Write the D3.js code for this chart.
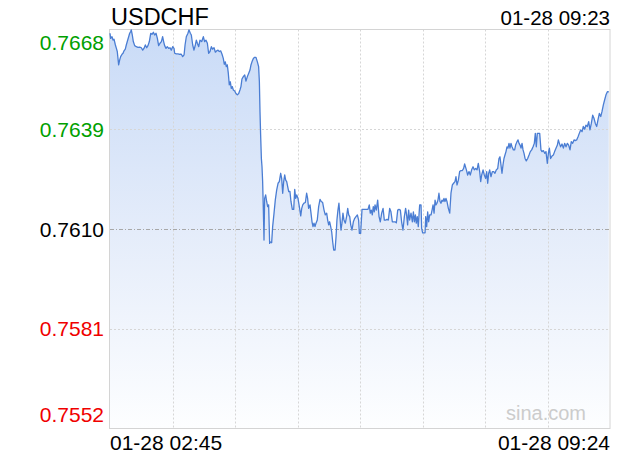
<!DOCTYPE html>
<html><head><meta charset="utf-8">
<script src="https://cdn.jsdelivr.net/npm/d3@7/dist/d3.min.js"></script>
<style>
body{margin:0;background:#fff}
svg{display:block}
text{font-family:"Liberation Sans",Arial,sans-serif}
</style>
</head><body>
<svg id="chart" width="620" height="460"></svg>
<script>
// ---------- data ----------
const symbol = "USDCHF";
const updateTime = "01-28 09:23";
const xLabels = ["01-28 02:45", "01-28 09:24"];
const prevClose = 0.7610;
const yTickLabels = ["0.7668", "0.7639", "0.7610", "0.7581", "0.7552"];
const yTickValues = [0.7668, 0.7639, 0.7610, 0.7581, 0.7552];
const yDomain = [0.7552, 0.7668];
const totalMinutes = 399;            // 02:45 -> 09:24
const watermark = "sina.com";

// minutes after 02:45
const minutes = [
0,0.5,1.6,2.4,3.2,4.3,5.1,5.8,6.9,7.7, 8.5,9.6,10.4,11.2,12.2,13.0,13.8,14.9,15.7,16.5,
17.0,17.8,18.6,19.7,21.0,22.3,23.7,25.0,26.1,27.1, 28.2,29.3,30.3,31.4,32.5,33.5,34.6,35.6,36.7,37.8,
38.8,39.9,41.0,42.0,42.8,43.6,44.7,45.7,46.8,47.9, 48.9,50.0,51.1,51.6,52.9,54.3,55.6,56.9,58.0,59.1,
59.9,60.9,62.2,63.0,64.1,64.9,66.0,67.0,68.1,68.9, 69.7,70.8,71.8,
73.2,74.5,75.5,76.6,77.7,78.7,79.8,80.9,81.9,83.0, 84.1,85.1,86.2,87.2,88.3,89.4,90.4,91.2,92.0,92.8,
93.6,94.4,95.2,96.0,96.8,97.6,98.4,99.5,100.5,101.6, 102.7,103.7,104.5,105.3,106.4,107.5,108.5,109.6,110.7,111.7,
112.5,113.3,114.4,115.4,116.5,117.6,118.6,119.2,119.7,120.2, 120.8,121.3,121.8,122.4,122.9,123.4,124.2,125.0,125.8,126.6,
127.4,
127.7,129.0,129.8,130.9,131.9,133.0,134.1,135.1,136.2,137.0, 137.8,138.6,139.4,140.2,141.0,141.8,142.6,143.6,144.4,145.5,
146.6,147.4,148.2,149.0,150.0,151.1,152.2,153.0,153.8,154.8, 155.9,156.9,157.7,158.5,159.6,160.4,161.2,162.0,162.8,163.6,
164.4,165.4,166.5,167.6,168.6,169.7,170.8,171.8,172.9,173.7, 174.5,175.3,176.1,176.9,177.7,178.5,179.6,180.4,181.1,181.9,
182.7,183.5,184.3,185.1,185.9,186.7,187.8,188.8,189.7,190.5, 191.3,192.1,193.1,194.2,195.3,196.3,197.4,198.4,199.0,200.0,
201.1,202.7,204.3,205.9,206.9,207.7,208.5,209.3,210.1,210.9,
211.5,212.5,213.6,214.7,215.7,216.8,217.9,218.9,220.0,221.0, 222.1,223.2,224.2,225.3,226.4,227.4,228.5,229.6,230.6,231.7,
232.7,233.8,234.9,235.9,236.7,237.5,238.3,239.1,240.2,241.3, 242.1,242.9,243.7,244.4,245.2,246.0,247.1,248.2,248.7,249.5,
250.6,251.4,251.9,252.7,253.5,254.3,255.1,256.2,257.0,257.8, 258.6,259.4,260.1,260.9,261.7,262.5,263.3,264.1,264.9,265.7,
266.5,267.3,268.1,268.9,270.0,271.1,272.1,273.2,274.2,275.3, 276.1,276.9,278.0,279.0,280.1,281.2,282.2,283.0,
284.4,285.4,286.5,287.5,288.6,289.7,290.7,291.8,292.9,293.9, 295.0,295.8,296.6,297.7,298.7,299.8,300.6,301.4,302.2,303.0,
304.0,305.1,306.2,307.2,308.3,309.4,310.4,311.2,312.0,312.8, 313.6,314.4,315.2,316.0,316.8,317.6,318.4,319.2,320.0,320.8,
321.9,322.9,323.7,324.8,325.6,326.4,327.2,328.0,328.8,329.6, 330.4,331.2,332.2,333.3,334.4,335.4,336.5,337.6,338.6,339.4,
340.2,341.0,342.1,342.9,
343.9,344.7,345.8,346.9,347.9,349.0,349.8,350.6,351.6,352.7, 353.8,354.8,355.9,357.0,357.8,358.6,359.6,360.7,361.8,362.8,
363.9,365.0,366.0,367.1,368.1,369.2,370.3,371.3,372.4,373.5, 374.5,375.6,376.7,377.7,378.8,379.8,380.9,382.0,383.0,384.1,
385.2,386.2,387.3,388.4,389.4,390.5,391.6,392.6,393.7,394.7, 395.8,396.9,398.0
];

const prices = [
0.76669,0.76654,0.76659,0.76649,0.76652,0.76635,0.76625,0.76616,0.76577,0.76591, 0.76601,0.76608,0.76611,0.76618,0.76623,0.76635,0.76645,0.76659,0.76669,0.76674,
0.76679,0.76664,0.76645,0.76633,0.76630,0.76628,0.76629,0.76627,0.76620,0.76625, 0.76635,0.76627,0.76633,0.76645,0.76669,0.76666,0.76672,0.76664,0.76669,0.76654,
0.76633,0.76640,0.76645,0.76659,0.76645,0.76633,0.76625,0.76630,0.76625,0.76627, 0.76620,0.76630,0.76625,0.76611,0.76609,0.76609,0.76608,0.76608,0.76601,0.76606,
0.76635,0.76659,0.76669,0.76679,0.76669,0.76664,0.76635,0.76620,0.76635,0.76649, 0.76640,0.76630,0.76649,
0.76645,0.76659,0.76645,0.76649,0.76640,0.76611,0.76616,0.76630,0.76623,0.76627, 0.76614,0.76618,0.76620,0.76616,0.76618,0.76608,0.76596,0.76579,0.76586,0.76572,
0.76577,0.76553,0.76519,0.76528,0.76509,0.76514,0.76504,0.76501,0.76494,0.76490, 0.76494,0.76504,0.76514,0.76536,0.76543,0.76548,0.76530,0.76543,0.76553,0.76562,
0.76577,0.76586,0.76596,0.76599,0.76599,0.76586,0.76572,0.76528,0.76441,0.76373, 0.76305,0.76281,0.76238,0.76150,0.76068,0.76189,0.76199,0.76180,0.76165,0.76170,
0.76058,
0.76063,0.76060,0.76107,0.76146,0.76184,0.76213,0.76233,0.76238,0.76262,0.76247, 0.76204,0.76238,0.76257,0.76242,0.76238,0.76223,0.76209,0.76209,0.76180,0.76157,
0.76157,0.76215,0.76189,0.76199,0.76189,0.76165,0.76138,0.76160,0.76170,0.76175, 0.76177,0.76204,0.76189,0.76160,0.76170,0.76146,0.76121,0.76107,0.76117,0.76107,
0.76117,0.76126,0.76165,0.76186,0.76180,0.76177,0.76155,0.76141,0.76146,0.76126, 0.76112,0.76121,0.76107,0.76092,0.76063,0.76039,0.76039,0.76078,0.76126,0.76155,
0.76175,0.76136,0.76097,0.76117,0.76146,0.76126,0.76117,0.76136,0.76160,0.76141, 0.76136,0.76112,0.76097,0.76121,0.76131,0.76136,0.76141,0.76126,0.76087,0.76087,
0.76157,0.76157,0.76157,0.76157,0.76170,0.76146,0.76155,0.76141,0.76165,0.76150,
0.76170,0.76155,0.76184,0.76136,0.76121,0.76146,0.76160,0.76126,0.76126,0.76128, 0.76126,0.76160,0.76150,0.76121,0.76121,0.76121,0.76118,0.76155,0.76157,0.76155,
0.76121,0.76097,0.76136,0.76160,0.76141,0.76112,0.76155,0.76126,0.76146,0.76121, 0.76150,0.76121,0.76141,0.76117,0.76136,0.76107,0.76170,0.76170,0.76102,0.76089,
0.76089,0.76089,0.76136,0.76107,0.76150,0.76121,0.76141,0.76141,0.76155,0.76170, 0.76146,0.76184,0.76170,0.76175,0.76184,0.76204,0.76180,0.76175,0.76184,0.76180,
0.76189,0.76180,0.76189,0.76180,0.76160,0.76146,0.76204,0.76228,0.76233,0.76238, 0.76252,0.76228,0.76242,0.76267,0.76270,0.76270,0.76276,0.76289,
0.76272,0.76257,0.76267,0.76257,0.76272,0.76281,0.76272,0.76276,0.76272,0.76291, 0.76267,0.76238,0.76257,0.76272,0.76257,0.76247,0.76267,0.76233,0.76262,0.76272,
0.76252,0.76267,0.76267,0.76262,0.76272,0.76276,0.76305,0.76310,0.76286,0.76262, 0.76286,0.76305,0.76315,0.76325,0.76339,0.76335,0.76349,0.76335,0.76349,0.76339,
0.76330,0.76330,0.76344,0.76354,0.76359,0.76349,0.76344,0.76335,0.76349,0.76330, 0.76320,0.76305,0.76298,0.76305,0.76315,0.76325,0.76330,0.76339,0.76349,0.76378,
0.76339,0.76378,0.76378,0.76378,
0.76330,0.76325,0.76328,0.76320,0.76325,0.76291,0.76320,0.76335,0.76305,0.76312, 0.76315,0.76325,0.76335,0.76344,0.76359,0.76349,0.76339,0.76347,0.76335,0.76349,
0.76339,0.76349,0.76344,0.76330,0.76354,0.76349,0.76359,0.76357,0.76359,0.76368, 0.76378,0.76388,0.76383,0.76398,0.76390,0.76402,0.76398,0.76412,0.76388,0.76407,
0.76431,0.76422,0.76407,0.76398,0.76417,0.76436,0.76427,0.76441,0.76461,0.76475, 0.76490,0.76499,0.76499
];

// ---------- chart ----------
(function () {
const svg = d3.select("#chart");
const pLeft = 110, pRight = 610, pTop = 29.5, pBottom = 428.5;

const x = d3.scaleLinear().domain([0, totalMinutes]).range([pLeft, pRight]);
const y = d3.scaleLinear().domain(yDomain).range([pBottom, pTop]);

const n = Math.min(minutes.length, prices.length);
const data = d3.range(n).map(i => ({t: minutes[i], p: prices[i]}));

const defs = svg.append("defs");
const grad = defs.append("linearGradient").attr("id", "fillGrad")
  .attr("gradientUnits", "userSpaceOnUse")
  .attr("x1", 0).attr("x2", 0).attr("y1", pTop).attr("y2", pBottom);
grad.append("stop").attr("offset", 0).attr("stop-color", "#c9dbf7");
grad.append("stop").attr("offset", 0.5).attr("stop-color", "#e4ecfa");
grad.append("stop").attr("offset", 1).attr("stop-color", "#fdfeff");

// area
svg.append("path").datum(data)
  .attr("fill", "url(#fillGrad)")
  .attr("d", d3.area().x(d => x(d.t)).y0(pBottom).y1(d => y(d.p)));

// vertical grid
const vTicks = d3.range(1, 8).map(i => i * totalMinutes / 8);
svg.append("g").selectAll("line").data(vTicks).join("line")
  .attr("x1", d => Math.round(x(d)) + 0.5).attr("x2", d => Math.round(x(d)) + 0.5)
  .attr("y1", pTop).attr("y2", pBottom)
  .attr("stroke", "#d6d6d6").attr("stroke-dasharray", "2,2");

// horizontal grid
svg.append("g").selectAll("line").data(yTickValues.slice(1, 4)).join("line")
  .attr("x1", pLeft).attr("x2", pRight)
  .attr("y1", d => Math.round(y(d)) + 0.5).attr("y2", d => Math.round(y(d)) + 0.5)
  .attr("stroke", d => d === prevClose ? "#a8a8a8" : "#d6d6d6")
  .attr("stroke-dasharray", d => d === prevClose ? "4,2,1,2" : "2,2");

// frame
svg.append("rect").attr("x", pLeft - 0.5).attr("y", pTop).attr("width", pRight - pLeft + 0.5).attr("height", pBottom - pTop)
  .attr("fill", "none").attr("stroke", "#d4d4d4");

// price line
svg.append("path").datum(data)
  .attr("fill", "none").attr("stroke", "#4a7dd3").attr("stroke-width", 1.3)
  .attr("stroke-linejoin", "round")
  .attr("d", d3.line().x(d => x(d.t)).y(d => y(d.p)));

// y labels
svg.append("g").selectAll("text").data(yTickValues).join("text")
  .attr("x", 104)
  .attr("y", (d, i) => i === 0 ? y(d) + 20 : i === yTickValues.length - 1 ? y(d) - 6.5 : y(d) + 7.5)
  .attr("text-anchor", "end")
  .attr("font-size", 21)
  .attr("fill", d => d > prevClose ? "#00a000" : d < prevClose ? "#f00000" : "#000")
  .text((d, i) => yTickLabels[i]);

// title / time
svg.append("text").attr("x", 111).attr("y", 24.5).attr("font-size", 23.5).attr("fill", "#000").text(symbol);
svg.append("text").attr("x", 610).attr("y", 24.5).attr("text-anchor", "end").attr("font-size", 20.5).attr("fill", "#000").text(updateTime);

// x labels
svg.append("text").attr("x", x(0)).attr("y", 450).attr("font-size", 21).attr("fill", "#000").text(xLabels[0]);
svg.append("text").attr("x", x(totalMinutes)).attr("y", 450).attr("text-anchor", "end").attr("font-size", 21).attr("fill", "#000").text(xLabels[1]);

// watermark
svg.append("text").attr("x", 586).attr("y", 420).attr("text-anchor", "end").attr("font-size", 20).attr("fill", "#cccccc").text(watermark);
})();
</script>
</body></html>
